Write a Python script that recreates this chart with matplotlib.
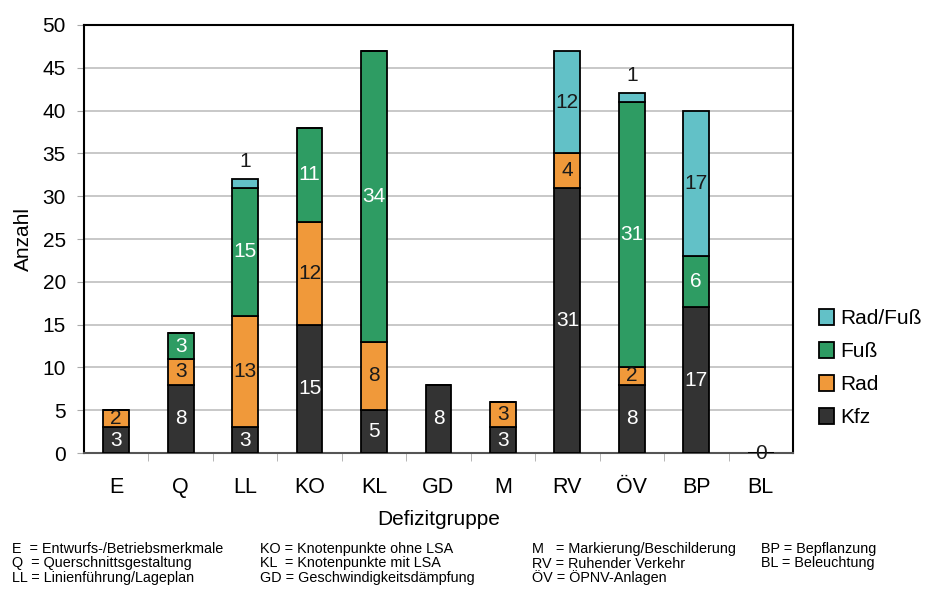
import numpy as np
import matplotlib
matplotlib.use("Agg")
import matplotlib.pyplot as plt
from matplotlib.ticker import MultipleLocator

plt.rcParams['font.family'] = ['Liberation Sans', 'DejaVu Sans']

gruppen = ['E', 'Q', 'LL', 'KO', 'KL', 'GD', 'M', 'RV', 'ÖV', 'BP', 'BL']
kfz    = [3, 8, 3, 15, 5, 8, 3, 31, 8, 17, 0]
rad    = [2, 3, 13, 12, 8, 0, 3, 4, 2, 0, 0]
fuss   = [0, 3, 15, 11, 34, 0, 0, 0, 31, 6, 0]
radfuss = [0, 0, 1, 0, 0, 0, 0, 12, 1, 17, 0]

serien = [('Kfz', kfz, '#333333', 'white'),
          ('Rad', rad, '#f0993a', '#1a1a1a'),
          ('Fuß', fuss, '#2e9c63', 'white'),
          ('Rad/Fuß', radfuss, '#62c1c7', '#1a1a1a')]

legende = ['E  = Entwurfs-/Betriebsmerkmale', 'Q  = Querschnittsgestaltung', 'LL = Linienführung/Lageplan',
           'KO = Knotenpunkte ohne LSA', 'KL  = Knotenpunkte mit LSA', 'GD = Geschwindigkeitsdämpfung',
           'M   = Markierung/Beschilderung', 'RV = Ruhender Verkehr', 'ÖV = ÖPNV-Anlagen',
           'BP = Bepflanzung', 'BL = Beleuchtung']

fig = plt.figure(figsize=(9.28, 5.99), dpi=100)
ax = fig.add_axes([0.0905, 0.2437, 0.764, 0.7146])

x = np.arange(len(gruppen))
unten = np.zeros(len(gruppen))
summe = np.sum([s[1] for s in serien], axis=0)
handles = []
for i, (name, werte, farbe, textfarbe) in enumerate(serien):
    werte = np.array(werte, dtype=float)
    b = ax.bar(x, werte, 0.4, bottom=unten, color=farbe, edgecolor='black',
               linewidth=1.3, label=name, zorder=3)
    handles.append(b)
    for xi, v, u in zip(x, werte, unten):
        if v == 0:
            # leere Gruppe bekommt eine 0 auf der Achse
            if i == 0 and summe[xi] == 0:
                ax.text(xi, 0, '0', ha='center', va='center', fontsize=15,
                        color='#1a1a1a', zorder=4)
            continue
        if v == 1:
            ax.annotate('1', (xi, u + v), xytext=(0, 6), textcoords='offset points',
                        ha='center', va='bottom', fontsize=15, color='#1a1a1a', zorder=4)
        else:
            ax.text(xi, u + v / 2, '%d' % v, ha='center', va='center', fontsize=15,
                    color=textfarbe, zorder=4)
    unten = unten + werte

ax.set_xlim(-0.5, len(gruppen) - 0.5)
ax.set_ylim(0, 50)
ax.yaxis.set_major_locator(MultipleLocator(5))
ax.grid(axis='y', color='#c4c4c4', linewidth=1.3, zorder=0)
ax.set_xticks(x)
ax.set_xticklabels(gruppen)
ax.set_xticks(np.arange(0.5, len(gruppen) - 0.5), minor=True)
ax.tick_params(axis='x', which='major', length=0, labelsize=15.5, pad=17)
ax.tick_params(axis='x', which='minor', length=6, color='#aaaaaa', direction='out')
ax.tick_params(axis='y', labelsize=15, length=5, color='#aaaaaa', pad=8)
for s in ax.spines.values():
    s.set_linewidth(1.5)
ax.spines['bottom'].set_color('#555555')

ax.set_xlabel('Defizitgruppe', fontsize=15, labelpad=9)
ax.set_ylabel('Anzahl', fontsize=15, labelpad=7)

leg = ax.legend(handles[::-1], [s[0] for s in serien][::-1], loc='center left',
                bbox_to_anchor=(1.01, 0.198), frameon=False, fontsize=15,
                handlelength=0.75, handleheight=0.75, handletextpad=0.3, labelspacing=0.67)

# Erklaerung der Abkuerzungen unter dem Diagramm
spalten_x = [12, 260, 532, 761]
zeilen_y = [549, 563.5, 578]
k = 0
for sx, n in zip(spalten_x, [3, 3, 3, 2]):
    for r in range(n):
        fig.text(sx / 928, 1 - zeilen_y[r] / 599, legende[k], fontsize=10.4,
                 va='center', ha='left')
        k += 1

fig.savefig('out.png', dpi=100)
